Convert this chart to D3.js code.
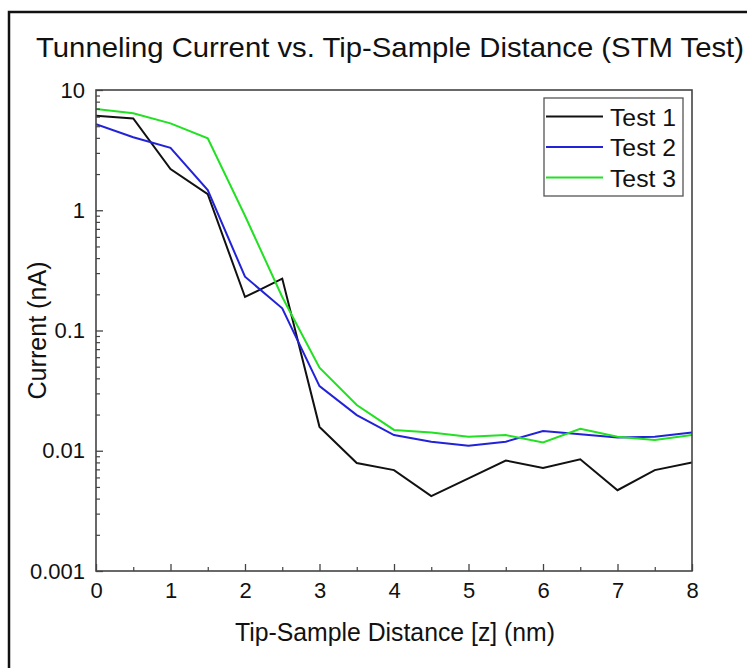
<!DOCTYPE html>
<html>
<head>
<meta charset="utf-8">
<script src="https://cdn.jsdelivr.net/npm/d3@7"></script>
<style>
  html, body { margin: 0; padding: 0; background: #fff; }
  svg { display: block; }
  text { font-family: Arial, "Liberation Sans", sans-serif; fill: #111; }
</style>
</head>
<body>
<svg id="chart" width="747" height="668"></svg>
<script>
// Tip-sample distance (nm), sampled every 0.5 nm
const distance = [0, 0.5, 1, 1.5, 2, 2.5, 3, 3.5, 4, 4.5, 5, 5.5, 6, 6.5, 7, 7.5, 8];

// Tunneling current (nA) for each test run
const test1 = [6.1, 5.8, 2.2, 1.36, 0.19, 0.27, 0.0158, 0.0079, 0.0069, 0.0042, 0.0059, 0.0083, 0.0072, 0.0085, 0.0047, 0.0069, 0.0080];
const test2 = [5.2, 4.05, 3.3, 1.47, 0.28, 0.153, 0.0345, 0.0198, 0.0135, 0.0119, 0.0110, 0.0119, 0.0146, 0.0137, 0.0129, 0.0131, 0.0142];
const test3 = [6.95, 6.4, 5.28, 3.96, 0.9, 0.19, 0.049, 0.024, 0.0149, 0.0142, 0.0131, 0.0135, 0.0117, 0.0152, 0.0131, 0.0123, 0.0135];

const seriesNames = ["Test 1", "Test 2", "Test 3"];
const seriesColors = ["#111111", "#2222d8", "#22e022"];

const xTicks = [0, 1, 2, 3, 4, 5, 6, 7, 8];
const xMinorTicks = [0.5, 1.5, 2.5, 3.5, 4.5, 5.5, 6.5, 7.5];
const yTicks = [0.001, 0.01, 0.1, 1, 10];
const yTickLabels = ["0.001", "0.01", "0.1", "1", "10"];

const titleText = "Tunneling Current vs. Tip-Sample Distance (STM Test)";
const xTitle = "Tip-Sample Distance [z] (nm)";
const yTitle = "Current (nA)";

const svg = d3.select("#chart");

// outer frame around the whole figure
svg.append("rect")
  .attr("x", 9).attr("y", 12)
  .attr("width", 800).attr("height", 700)
  .attr("fill", "none").attr("stroke", "#111").attr("stroke-width", 2.5);

const plot = { left: 96, right: 692, top: 90, bottom: 571 };

const x = d3.scaleLinear().domain([0, 8]).range([plot.left, plot.right]);
const y = d3.scaleLog().domain([0.001, 10]).range([plot.bottom, plot.top]);

// minor log ticks: 2..9 in each decade
const yMinor = [];
for (let d = 0.001; d < 10; d *= 10) {
  for (let m = 2; m <= 9; m++) yMinor.push(+(d * m).toPrecision(3));
}

// title
svg.append("text")
  .attr("x", 36).attr("y", 57)
  .attr("font-size", 28)
  .attr("textLength", 708)
  .attr("lengthAdjust", "spacingAndGlyphs")
  .text(titleText);

// series lines (clipped to plot area)
svg.append("clipPath").attr("id", "clip")
  .append("rect")
  .attr("x", plot.left).attr("y", plot.top)
  .attr("width", plot.right - plot.left).attr("height", plot.bottom - plot.top);

const line = d3.line()
  .x((d, i) => x(distance[i]))
  .y(d => y(d));

const lines = svg.append("g").attr("clip-path", "url(#clip)");
[test1, test2, test3].forEach((s, k) => {
  lines.append("path")
    .datum(s)
    .attr("d", line)
    .attr("fill", "none")
    .attr("stroke", seriesColors[k])
    .attr("stroke-width", 2)
    .attr("stroke-linejoin", "miter");
});

// axes: ticks point inward
const axisColor = "#444";

const yAxis = svg.append("g")
  .attr("transform", `translate(${plot.left},0)`)
  .call(d3.axisLeft(y)
    .tickValues(yTicks)
    .tickFormat((d, i) => yTickLabels[i])
    .tickSizeInner(-7).tickSizeOuter(0).tickPadding(11));
yAxis.select(".domain").remove();
yAxis.selectAll("line").attr("stroke", axisColor).attr("stroke-width", 1.3);
yAxis.selectAll("text").attr("font-size", 22).attr("fill", "#111")
  .attr("font-family", "Arial, 'Liberation Sans', sans-serif");

const yAxisMinor = svg.append("g")
  .attr("transform", `translate(${plot.left},0)`)
  .call(d3.axisLeft(y).tickValues(yMinor).tickFormat("").tickSizeInner(-4).tickSizeOuter(0));
yAxisMinor.select(".domain").remove();
yAxisMinor.selectAll("line").attr("stroke", axisColor).attr("stroke-width", 1.2);

const xAxis = svg.append("g")
  .attr("transform", `translate(0,${plot.bottom})`)
  .call(d3.axisBottom(x)
    .tickValues(xTicks)
    .tickFormat(d3.format("d"))
    .tickSizeInner(-7).tickSizeOuter(0).tickPadding(11));
xAxis.select(".domain").remove();
xAxis.selectAll("line").attr("stroke", axisColor).attr("stroke-width", 1.3);
xAxis.selectAll("text").attr("font-size", 22).attr("fill", "#111")
  .attr("font-family", "Arial, 'Liberation Sans', sans-serif");

const xAxisMinor = svg.append("g")
  .attr("transform", `translate(0,${plot.bottom})`)
  .call(d3.axisBottom(x).tickValues(xMinorTicks).tickFormat("").tickSizeInner(-4).tickSizeOuter(0));
xAxisMinor.select(".domain").remove();
xAxisMinor.selectAll("line").attr("stroke", axisColor).attr("stroke-width", 1.2);

// plot frame
svg.append("rect")
  .attr("x", plot.left).attr("y", plot.top)
  .attr("width", plot.right - plot.left).attr("height", plot.bottom - plot.top)
  .attr("fill", "none").attr("stroke", axisColor).attr("stroke-width", 1.6);

// axis titles
svg.append("text")
  .attr("x", 395).attr("y", 641)
  .attr("text-anchor", "middle")
  .attr("font-size", 25)
  .attr("textLength", 320)
  .attr("lengthAdjust", "spacingAndGlyphs")
  .text(xTitle);

svg.append("text")
  .attr("transform", `translate(46,${(plot.top + plot.bottom) / 2}) rotate(-90)`)
  .attr("text-anchor", "middle")
  .attr("font-size", 25)
  .attr("textLength", 138)
  .attr("lengthAdjust", "spacingAndGlyphs")
  .text(yTitle);

// legend
const legend = { x: 544, y: 98, w: 139, h: 98 };
svg.append("rect")
  .attr("x", legend.x).attr("y", legend.y)
  .attr("width", legend.w).attr("height", legend.h)
  .attr("fill", "#fff").attr("stroke", "#555").attr("stroke-width", 1.3);

seriesNames.forEach((name, k) => {
  const cy = legend.y + 18.5 + k * 30.5;
  svg.append("line")
    .attr("x1", legend.x + 2).attr("x2", legend.x + 59)
    .attr("y1", cy).attr("y2", cy)
    .attr("stroke", seriesColors[k]).attr("stroke-width", 2);
  svg.append("text")
    .attr("x", legend.x + 66).attr("y", cy + 9)
    .attr("font-size", 24)
    .attr("textLength", 66)
    .attr("lengthAdjust", "spacingAndGlyphs")
    .text(name);
});
</script>
</body>
</html>
